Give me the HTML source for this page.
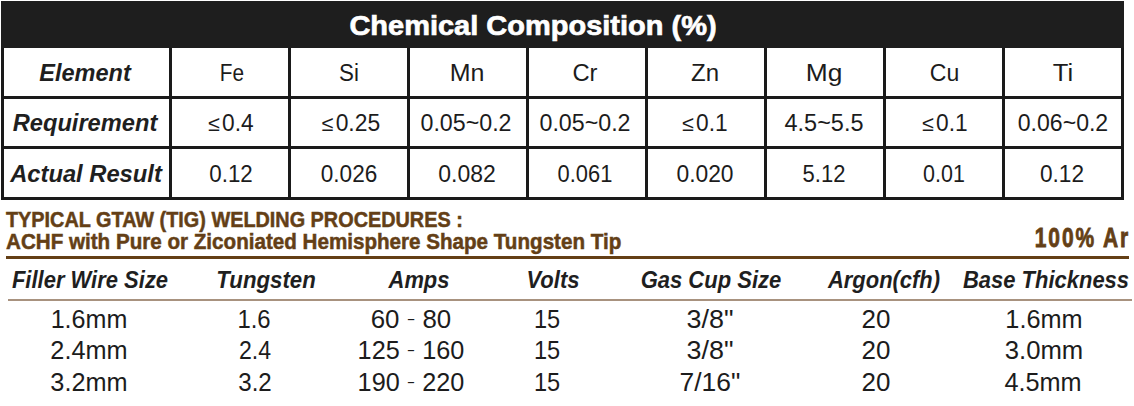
<!DOCTYPE html>
<html><head><meta charset="utf-8">
<style>
html,body{margin:0;padding:0;background:#fff;}
body{width:1134px;height:406px;position:relative;overflow:hidden;font-family:"Liberation Sans",sans-serif;}
.t{position:absolute;white-space:nowrap;}
.r{position:absolute;}
.b{display:inline-block;width:0;height:0;vertical-align:baseline;}
.le{font-size:0.94em;margin-right:2px;}
.hy{display:inline-block;transform:scaleY(0.55);}
</style></head><body>
<div class="r" style="left:1px;top:1px;width:1123px;height:47px;background:#1e1e1e;"></div>
<div class="r" style="left:1px;top:48px;width:3px;height:151px;background:#1a1a1a;"></div>
<div class="r" style="left:169px;top:48px;width:3px;height:151px;background:#1a1a1a;"></div>
<div class="r" style="left:288px;top:48px;width:3px;height:151px;background:#1a1a1a;"></div>
<div class="r" style="left:407px;top:48px;width:3px;height:151px;background:#1a1a1a;"></div>
<div class="r" style="left:526px;top:48px;width:3px;height:151px;background:#1a1a1a;"></div>
<div class="r" style="left:645px;top:48px;width:3px;height:151px;background:#1a1a1a;"></div>
<div class="r" style="left:764px;top:48px;width:3px;height:151px;background:#1a1a1a;"></div>
<div class="r" style="left:883px;top:48px;width:3px;height:151px;background:#1a1a1a;"></div>
<div class="r" style="left:1002px;top:48px;width:3px;height:151px;background:#1a1a1a;"></div>
<div class="r" style="left:1121px;top:48px;width:3px;height:151px;background:#1a1a1a;"></div>
<div class="r" style="left:1px;top:96px;width:1123px;height:3px;background:#1a1a1a;"></div>
<div class="r" style="left:1px;top:146px;width:1123px;height:3px;background:#1a1a1a;"></div>
<div class="r" style="left:1px;top:197px;width:1123px;height:3px;background:#1a1a1a;"></div>
<div class="r" style="left:6px;top:256px;width:1123px;height:3px;background:#643f16;"></div>
<div class="r" style="left:8px;top:299px;width:1124px;height:2px;background:#a8927f;"></div>
<div class="t" style="top:10.81px;font-size:28.5px;line-height:28.5px;font-weight:bold;font-style:normal;color:#ffffff;left:232.50px;width:600px;text-align:center;transform:scaleX(1.0169);-webkit-text-stroke:0.7px #ffffff;"><span id="e0">Chemical Composition (%)<i class="b"></i></span></div>
<div class="t" style="top:62.01px;font-size:23px;line-height:23px;font-weight:bold;font-style:italic;color:#1f1f1f;left:-214.60px;width:600px;text-align:center;transform:scaleX(1.0222);"><span id="e1">Element<i class="b"></i></span></div>
<div class="t" style="top:112.01px;font-size:23px;line-height:23px;font-weight:bold;font-style:italic;color:#1f1f1f;left:-215.10px;width:600px;text-align:center;transform:scaleX(1.0283);"><span id="e2">Requirement<i class="b"></i></span></div>
<div class="t" style="top:163.01px;font-size:23px;line-height:23px;font-weight:bold;font-style:italic;color:#1f1f1f;left:-214.20px;width:600px;text-align:center;transform:scaleX(1.0318);"><span id="e3">Actual Result<i class="b"></i></span></div>
<div class="t" style="top:62.01px;font-size:23px;line-height:23px;font-weight:normal;font-style:normal;color:#1c1c1c;left:-67.90px;width:600px;text-align:center;transform:scaleX(0.9036);"><span id="e4">Fe<i class="b"></i></span></div>
<div class="t" style="top:62.01px;font-size:23px;line-height:23px;font-weight:normal;font-style:normal;color:#1c1c1c;left:49.40px;width:600px;text-align:center;transform:scaleX(0.9720);"><span id="e5">Si<i class="b"></i></span></div>
<div class="t" style="top:62.01px;font-size:23px;line-height:23px;font-weight:normal;font-style:normal;color:#1c1c1c;left:167.20px;width:600px;text-align:center;transform:scaleX(1.0861);"><span id="e6">Mn<i class="b"></i></span></div>
<div class="t" style="top:62.01px;font-size:23px;line-height:23px;font-weight:normal;font-style:normal;color:#1c1c1c;left:285.30px;width:600px;text-align:center;transform:scaleX(1.0346);"><span id="e7">Cr<i class="b"></i></span></div>
<div class="t" style="top:62.01px;font-size:23px;line-height:23px;font-weight:normal;font-style:normal;color:#1c1c1c;left:404.80px;width:600px;text-align:center;transform:scaleX(1.0444);"><span id="e8">Zn<i class="b"></i></span></div>
<div class="t" style="top:62.01px;font-size:23px;line-height:23px;font-weight:normal;font-style:normal;color:#1c1c1c;left:523.60px;width:600px;text-align:center;transform:scaleX(1.1452);"><span id="e9">Mg<i class="b"></i></span></div>
<div class="t" style="top:62.01px;font-size:23px;line-height:23px;font-weight:normal;font-style:normal;color:#1c1c1c;left:644.50px;width:600px;text-align:center;"><span id="e10">Cu<i class="b"></i></span></div>
<div class="t" style="top:62.01px;font-size:23px;line-height:23px;font-weight:normal;font-style:normal;color:#1c1c1c;left:762.90px;width:600px;text-align:center;transform:scaleX(1.1116);"><span id="e11">Ti<i class="b"></i></span></div>
<div class="t" style="top:112.31px;font-size:23px;line-height:23px;font-weight:normal;font-style:normal;color:#1c1c1c;left:-68.60px;width:600px;text-align:center;transform:scaleX(0.9876);"><span id="e12"><span class="le">&le;</span>0.4<i class="b"></i></span></div>
<div class="t" style="top:112.31px;font-size:23px;line-height:23px;font-weight:normal;font-style:normal;color:#1c1c1c;left:50.70px;width:600px;text-align:center;transform:scaleX(0.9938);"><span id="e13"><span class="le">&le;</span>0.25<i class="b"></i></span></div>
<div class="t" style="top:112.31px;font-size:23px;line-height:23px;font-weight:normal;font-style:normal;color:#1c1c1c;left:166.40px;width:600px;text-align:center;transform:scaleX(1.0093);"><span id="e14">0.05~0.2<i class="b"></i></span></div>
<div class="t" style="top:112.31px;font-size:23px;line-height:23px;font-weight:normal;font-style:normal;color:#1c1c1c;left:285.40px;width:600px;text-align:center;transform:scaleX(1.0093);"><span id="e15">0.05~0.2<i class="b"></i></span></div>
<div class="t" style="top:112.31px;font-size:23px;line-height:23px;font-weight:normal;font-style:normal;color:#1c1c1c;left:404.80px;width:600px;text-align:center;transform:scaleX(0.9877);"><span id="e16"><span class="le">&le;</span>0.1<i class="b"></i></span></div>
<div class="t" style="top:112.31px;font-size:23px;line-height:23px;font-weight:normal;font-style:normal;color:#1c1c1c;left:523.70px;width:600px;text-align:center;transform:scaleX(1.0200);"><span id="e17">4.5~5.5<i class="b"></i></span></div>
<div class="t" style="top:112.31px;font-size:23px;line-height:23px;font-weight:normal;font-style:normal;color:#1c1c1c;left:645.40px;width:600px;text-align:center;transform:scaleX(0.9877);"><span id="e18"><span class="le">&le;</span>0.1<i class="b"></i></span></div>
<div class="t" style="top:112.31px;font-size:23px;line-height:23px;font-weight:normal;font-style:normal;color:#1c1c1c;left:762.70px;width:600px;text-align:center;transform:scaleX(1.0028);"><span id="e19">0.06~0.2<i class="b"></i></span></div>
<div class="t" style="top:162.81px;font-size:23px;line-height:23px;font-weight:normal;font-style:normal;color:#1c1c1c;left:-69.00px;width:600px;text-align:center;transform:scaleX(0.9714);"><span id="e20">0.12<i class="b"></i></span></div>
<div class="t" style="top:162.81px;font-size:23px;line-height:23px;font-weight:normal;font-style:normal;color:#1c1c1c;left:49.40px;width:600px;text-align:center;transform:scaleX(0.9811);"><span id="e21">0.026<i class="b"></i></span></div>
<div class="t" style="top:162.81px;font-size:23px;line-height:23px;font-weight:normal;font-style:normal;color:#1c1c1c;left:167.10px;width:600px;text-align:center;transform:scaleX(0.9980);"><span id="e22">0.082<i class="b"></i></span></div>
<div class="t" style="top:162.81px;font-size:23px;line-height:23px;font-weight:normal;font-style:normal;color:#1c1c1c;left:285.20px;width:600px;text-align:center;transform:scaleX(0.9512);"><span id="e23">0.061<i class="b"></i></span></div>
<div class="t" style="top:162.81px;font-size:23px;line-height:23px;font-weight:normal;font-style:normal;color:#1c1c1c;left:404.50px;width:600px;text-align:center;transform:scaleX(0.9924);"><span id="e24">0.020<i class="b"></i></span></div>
<div class="t" style="top:162.81px;font-size:23px;line-height:23px;font-weight:normal;font-style:normal;color:#1c1c1c;left:524.20px;width:600px;text-align:center;transform:scaleX(0.9562);"><span id="e25">5.12<i class="b"></i></span></div>
<div class="t" style="top:162.81px;font-size:23px;line-height:23px;font-weight:normal;font-style:normal;color:#1c1c1c;left:643.50px;width:600px;text-align:center;transform:scaleX(0.9329);"><span id="e26">0.01<i class="b"></i></span></div>
<div class="t" style="top:162.81px;font-size:23px;line-height:23px;font-weight:normal;font-style:normal;color:#1c1c1c;left:761.50px;width:600px;text-align:center;transform:scaleX(0.9845);"><span id="e27">0.12<i class="b"></i></span></div>
<div class="t" style="top:210.41px;font-size:21.5px;line-height:21.5px;font-weight:bold;font-style:normal;color:#643f16;left:5.80px;transform:scaleX(0.9230);transform-origin:0 0;-webkit-text-stroke:0.5px #643f16;"><span id="e28">TYPICAL GTAW (TIG) WELDING PROCEDURES :<i class="b"></i></span></div>
<div class="t" style="top:231.50px;font-size:21.5px;line-height:21.5px;font-weight:bold;font-style:normal;color:#643f16;left:6.00px;transform:scaleX(0.9585);transform-origin:0 0;-webkit-text-stroke:0.5px #643f16;"><span id="e29">ACHF with Pure or Ziconiated Hemisphere Shape Tungsten Tip<i class="b"></i></span></div>
<div class="t" style="top:223.81px;font-size:27.5px;line-height:27.5px;font-weight:bold;font-style:normal;color:#643f16;right:4.40px;text-align:right;transform:scaleX(0.7615);transform-origin:100% 0;letter-spacing:2.5px;-webkit-text-stroke:0.85px #643f16;"><span id="e30">100% Ar<i class="b"></i></span></div>
<div class="t" style="top:268.60px;font-size:23px;line-height:23px;font-weight:bold;font-style:italic;color:#1f1f1f;left:-210.50px;width:600px;text-align:center;transform:scaleX(0.9559);"><span id="e31">Filler Wire Size<i class="b"></i></span></div>
<div class="t" style="top:268.60px;font-size:23px;line-height:23px;font-weight:bold;font-style:italic;color:#1f1f1f;left:-33.70px;width:600px;text-align:center;transform:scaleX(0.9665);"><span id="e32">Tungsten<i class="b"></i></span></div>
<div class="t" style="top:268.60px;font-size:23px;line-height:23px;font-weight:bold;font-style:italic;color:#1f1f1f;left:119.30px;width:600px;text-align:center;transform:scaleX(0.9529);"><span id="e33">Amps<i class="b"></i></span></div>
<div class="t" style="top:268.60px;font-size:23px;line-height:23px;font-weight:bold;font-style:italic;color:#1f1f1f;left:252.70px;width:600px;text-align:center;transform:scaleX(0.9584);"><span id="e34">Volts<i class="b"></i></span></div>
<div class="t" style="top:268.60px;font-size:23px;line-height:23px;font-weight:bold;font-style:italic;color:#1f1f1f;left:410.50px;width:600px;text-align:center;transform:scaleX(0.9573);"><span id="e35">Gas Cup Size<i class="b"></i></span></div>
<div class="t" style="top:268.60px;font-size:23px;line-height:23px;font-weight:bold;font-style:italic;color:#1f1f1f;left:583.50px;width:600px;text-align:center;transform:scaleX(0.9545);"><span id="e36">Argon(cfh)<i class="b"></i></span></div>
<div class="t" style="top:268.60px;font-size:23px;line-height:23px;font-weight:bold;font-style:italic;color:#1f1f1f;left:746.30px;width:600px;text-align:center;transform:scaleX(0.9553);"><span id="e37">Base Thickness<i class="b"></i></span></div>
<div class="t" style="top:306.80px;font-size:25px;line-height:25px;font-weight:normal;font-style:normal;color:#1c1c1c;left:-211.10px;width:600px;text-align:center;transform:scaleX(1.0042);"><span id="e38">1.6mm<i class="b"></i></span></div>
<div class="t" style="top:306.80px;font-size:25px;line-height:25px;font-weight:normal;font-style:normal;color:#1c1c1c;left:-45.60px;width:600px;text-align:center;transform:scaleX(0.9545);"><span id="e39">1.6<i class="b"></i></span></div>
<div class="t" style="top:306.80px;font-size:25px;line-height:25px;font-weight:normal;font-style:normal;color:#1c1c1c;left:111.00px;width:600px;text-align:center;transform:scaleX(1.0347);"><span id="e40">60&nbsp;<span class="hy">-</span>&nbsp;80<i class="b"></i></span></div>
<div class="t" style="top:306.80px;font-size:25px;line-height:25px;font-weight:normal;font-style:normal;color:#1c1c1c;left:246.80px;width:600px;text-align:center;transform:scaleX(0.9427);"><span id="e41">15<i class="b"></i></span></div>
<div class="t" style="top:306.80px;font-size:25px;line-height:25px;font-weight:normal;font-style:normal;color:#1c1c1c;left:410.00px;width:600px;text-align:center;transform:scaleX(1.0765);"><span id="e42">3/8"<i class="b"></i></span></div>
<div class="t" style="top:306.80px;font-size:25px;line-height:25px;font-weight:normal;font-style:normal;color:#1c1c1c;left:575.90px;width:600px;text-align:center;transform:scaleX(1.0394);"><span id="e43">20<i class="b"></i></span></div>
<div class="t" style="top:306.80px;font-size:25px;line-height:25px;font-weight:normal;font-style:normal;color:#1c1c1c;left:744.10px;width:600px;text-align:center;transform:scaleX(1.0116);"><span id="e44">1.6mm<i class="b"></i></span></div>
<div class="t" style="top:338.41px;font-size:25px;line-height:25px;font-weight:normal;font-style:normal;color:#1c1c1c;left:-210.60px;width:600px;text-align:center;transform:scaleX(1.0115);"><span id="e45">2.4mm<i class="b"></i></span></div>
<div class="t" style="top:338.41px;font-size:25px;line-height:25px;font-weight:normal;font-style:normal;color:#1c1c1c;left:-45.10px;width:600px;text-align:center;transform:scaleX(0.9237);"><span id="e46">2.4<i class="b"></i></span></div>
<div class="t" style="top:338.41px;font-size:25px;line-height:25px;font-weight:normal;font-style:normal;color:#1c1c1c;left:110.90px;width:600px;text-align:center;transform:scaleX(1.0102);"><span id="e47">125&nbsp;<span class="hy">-</span>&nbsp;160<i class="b"></i></span></div>
<div class="t" style="top:338.41px;font-size:25px;line-height:25px;font-weight:normal;font-style:normal;color:#1c1c1c;left:246.80px;width:600px;text-align:center;transform:scaleX(0.9427);"><span id="e48">15<i class="b"></i></span></div>
<div class="t" style="top:338.41px;font-size:25px;line-height:25px;font-weight:normal;font-style:normal;color:#1c1c1c;left:410.00px;width:600px;text-align:center;transform:scaleX(1.0765);"><span id="e49">3/8"<i class="b"></i></span></div>
<div class="t" style="top:338.41px;font-size:25px;line-height:25px;font-weight:normal;font-style:normal;color:#1c1c1c;left:575.90px;width:600px;text-align:center;transform:scaleX(1.0394);"><span id="e50">20<i class="b"></i></span></div>
<div class="t" style="top:338.41px;font-size:25px;line-height:25px;font-weight:normal;font-style:normal;color:#1c1c1c;left:743.70px;width:600px;text-align:center;transform:scaleX(1.0278);"><span id="e51">3.0mm<i class="b"></i></span></div>
<div class="t" style="top:370.01px;font-size:25px;line-height:25px;font-weight:normal;font-style:normal;color:#1c1c1c;left:-210.60px;width:600px;text-align:center;transform:scaleX(1.0115);"><span id="e52">3.2mm<i class="b"></i></span></div>
<div class="t" style="top:370.01px;font-size:25px;line-height:25px;font-weight:normal;font-style:normal;color:#1c1c1c;left:-44.60px;width:600px;text-align:center;transform:scaleX(0.9645);"><span id="e53">3.2<i class="b"></i></span></div>
<div class="t" style="top:370.01px;font-size:25px;line-height:25px;font-weight:normal;font-style:normal;color:#1c1c1c;left:110.90px;width:600px;text-align:center;transform:scaleX(1.0102);"><span id="e54">190&nbsp;<span class="hy">-</span>&nbsp;220<i class="b"></i></span></div>
<div class="t" style="top:370.01px;font-size:25px;line-height:25px;font-weight:normal;font-style:normal;color:#1c1c1c;left:246.80px;width:600px;text-align:center;transform:scaleX(0.9427);"><span id="e55">15<i class="b"></i></span></div>
<div class="t" style="top:370.01px;font-size:25px;line-height:25px;font-weight:normal;font-style:normal;color:#1c1c1c;left:409.50px;width:600px;text-align:center;transform:scaleX(1.0579);"><span id="e56">7/16"<i class="b"></i></span></div>
<div class="t" style="top:370.01px;font-size:25px;line-height:25px;font-weight:normal;font-style:normal;color:#1c1c1c;left:575.90px;width:600px;text-align:center;transform:scaleX(1.0394);"><span id="e57">20<i class="b"></i></span></div>
<div class="t" style="top:370.01px;font-size:25px;line-height:25px;font-weight:normal;font-style:normal;color:#1c1c1c;left:743.30px;width:600px;text-align:center;transform:scaleX(1.0109);"><span id="e58">4.5mm<i class="b"></i></span></div>
</body></html>
